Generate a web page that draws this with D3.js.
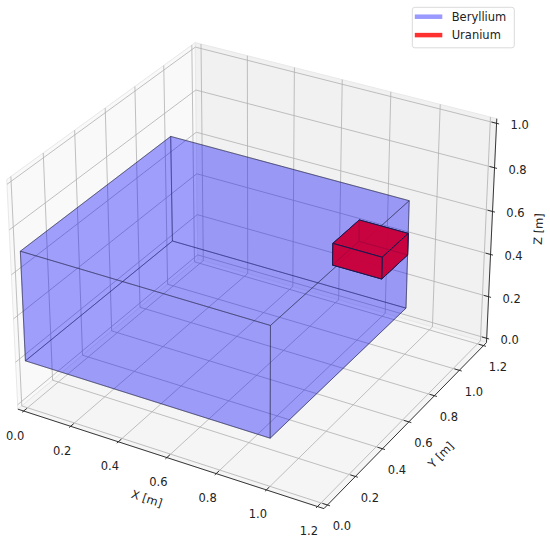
<!DOCTYPE html>
<html>
<head>
<meta charset="utf-8">
<script src="https://cdn.jsdelivr.net/npm/d3@7"></script>
<style>
  body { margin: 0; background: #fff; }
  text { font-family: "DejaVu Sans", sans-serif; font-size: 11.5px; fill: #222; }
</style>
</head>
<body>
<script>
// axis limits and ticks
const xLim = [0, 1.2];
const yLim = [0, 1.2];
const zLim = [0, 1.0];
const xTicks = [0, 0.2, 0.4, 0.6, 0.8, 1.0, 1.2];
const yTicks = [0, 0.2, 0.4, 0.6, 0.8, 1.0, 1.2];
const zTicks = [0, 0.2, 0.4, 0.6, 0.8, 1.0];

// boxes, one entry per material
const materials = ["Beryllium", "Uranium"];
const boxX0 = [0, 0.8];
const boxX1 = [1.0, 1.0];
const boxY0 = [0, 0.8];
const boxY1 = [1.0, 1.0];
const boxZ0 = [0.2, 0.45];
const boxZ1 = [0.7, 0.55];

const width = 550, height = 544;
const svg = d3.select("body").append("svg")
    .attr("width", width)
    .attr("height", height);

// view like matplotlib's default 3d axes
const elev = 30, azim = -60, dist = 10;
let aspect = [4, 4, 3];
const norm = Math.hypot(...aspect);
aspect = aspect.map(a => a * 1.8294640721620434 / norm);
const R = aspect.map(a => a / 2);
const er = elev * Math.PI / 180, ar = azim * Math.PI / 180;
const nv = [Math.cos(er) * Math.cos(ar), Math.cos(er) * Math.sin(ar), Math.sin(er)];
const dot = (a, b) => a[0] * b[0] + a[1] * b[1] + a[2] * b[2];
let uv = [-nv[1], nv[0], 0];
const ul = Math.hypot(...uv);
uv = uv.map(c => c / ul);
const vv = [nv[1] * uv[2] - nv[2] * uv[1], nv[2] * uv[0] - nv[0] * uv[2], nv[0] * uv[1] - nv[1] * uv[0]];

const wx = d3.scaleLinear().domain(xLim).range([0, aspect[0]]);
const wy = d3.scaleLinear().domain(yLim).range([0, aspect[1]]);
const wz = d3.scaleLinear().domain(zLim).range([0, aspect[2]]);
const sx = d3.scaleLinear().domain([0, 0.1]).range([256.5, 256.5 + 294.5]);
const sy = d3.scaleLinear().domain([0, 0.1]).range([264.4, 264.4 - 293.1]);

function project(p) {
    const d = [wx(p[0]) - R[0], wy(p[1]) - R[1], wz(p[2]) - R[2]];
    const w = dist - dot(nv, d);
    return [sx(dot(uv, d) / w), sy(dot(vv, d) / w), w];
}

const line = d3.line();
const path3 = pts => line(pts.map(p => project(p).slice(0, 2)));

// padded pane extents
const xd = (xLim[1] - xLim[0]) / 12, yd = (yLim[1] - yLim[0]) / 12, zd = (zLim[1] - zLim[0]) / 12;
const x0 = xLim[0] - xd / 4, x1 = xLim[1] + xd / 4;
const y0 = yLim[0] - yd / 4, y1 = yLim[1] + yd / 4;
const z0 = zLim[0] - zd / 4, z1 = zLim[1] + zd / 4;

// panes
const panes = [
    { pts: [[x0, y0, z0], [x0, y1, z0], [x0, y1, z1], [x0, y0, z1]], fill: "#f9f9f9" },
    { pts: [[x0, y1, z0], [x1, y1, z0], [x1, y1, z1], [x0, y1, z1]], fill: "#f1f1f1" },
    { pts: [[x0, y0, z0], [x1, y0, z0], [x1, y1, z0], [x0, y1, z0]], fill: "#f5f5f5" }
];
svg.selectAll(".pane")
    .data(panes)
    .enter()
    .append("path")
    .attr("class", "pane")
    .attr("d", d => path3(d.pts) + "Z")
    .attr("fill", d => d.fill)
    .attr("stroke", "#e8e8e8")
    .attr("stroke-width", 1);

// grid lines
const grid = []
    .concat(xTicks.map(t => [[t, y0, z0], [t, y1, z0], [t, y1, z1]]))
    .concat(yTicks.map(t => [[x1, t, z0], [x0, t, z0], [x0, t, z1]]))
    .concat(zTicks.map(t => [[x0, y0, t], [x0, y1, t], [x1, y1, t]]));
svg.selectAll(".grid")
    .data(grid)
    .enter()
    .append("path")
    .attr("class", "grid")
    .attr("d", path3)
    .attr("fill", "none")
    .attr("stroke", "#b0b0b0")
    .attr("stroke-width", 0.8);

// axis lines
const axes = [
    [[x0, y0, z0], [x1, y0, z0]],
    [[x1, y0, z0], [x1, y1, z0]],
    [[x1, y1, z0], [x1, y1, z1]]
];
svg.selectAll(".axisline")
    .data(axes)
    .enter()
    .append("path")
    .attr("class", "axisline")
    .attr("d", path3)
    .attr("stroke", "#222")
    .attr("stroke-width", 0.9);

// ticks
const tickSegs = []
    .concat(xTicks.map(t => [[t, y0 - 0.1 * yd, z0], [t, y0 + 0.2 * yd, z0]]))
    .concat(yTicks.map(t => [[x1 + 0.1 * xd, t, z0], [x1 - 0.2 * xd, t, z0]]))
    .concat(zTicks.map(t => [[x1 + 0.1 * xd, y1, t], [x1 - 0.2 * xd, y1, t]]));
svg.selectAll(".tick")
    .data(tickSegs)
    .enter()
    .append("path")
    .attr("class", "tick")
    .attr("d", path3)
    .attr("stroke", "#222")
    .attr("stroke-width", 0.9);

// tick labels
const fmt = d3.format(".1f");
const labels = []
    .concat(xTicks.map(t => ({ p: project([t, y0, z0]), dx: -8.5, dy: 24.5, t })))
    .concat(yTicks.map(t => ({ p: project([x1, t, z0]), dx: 14.5, dy: 21.5, t })))
    .concat(zTicks.map(t => ({ p: project([x1, y1, t]), dx: 23, dy: 2, t })));
svg.selectAll(".ticklabel")
    .data(labels)
    .enter()
    .append("text")
    .attr("class", "ticklabel")
    .attr("x", d => d.p[0] + d.dx)
    .attr("y", d => d.p[1] + d.dy)
    .attr("text-anchor", "middle")
    .attr("dominant-baseline", "central")
    .text(d => fmt(d.t));

// axis titles
const xm = (xLim[0] + xLim[1]) / 2, ym = (yLim[0] + yLim[1]) / 2, zm = (zLim[0] + zLim[1]) / 2;
function angle(a, b) {
    const pa = project(a), pb = project(b);
    return Math.atan2(pb[1] - pa[1], pb[0] - pa[0]) * 180 / Math.PI;
}
const titles = [
    { text: "X [m]", p: project([xm, y0, z0]), dx: -20, dy: 41, rot: angle([x0, y0, z0], [x1, y0, z0]) },
    { text: "Y [m]", p: project([x1, ym, z0]), dx: 32, dy: 33, rot: angle([x1, y0, z0], [x1, y1, z0]) },
    { text: "Z [m]", p: project([x1, y1, zm]), dx: 47, dy: -4, rot: angle([x1, y1, z0], [x1, y1, z1]) }
];
svg.selectAll(".title")
    .data(titles)
    .enter()
    .append("text")
    .attr("class", "title")
    .attr("text-anchor", "middle")
    .attr("dominant-baseline", "central")
    .attr("transform", d => `translate(${d.p[0] + d.dx},${d.p[1] + d.dy}) rotate(${d.rot})`)
    .text(d => d.text);

// boxes
const faceFill = ["blue", "#c8003c"];
const faceOpacity = [0.2, 0.85];
const edgeColor = ["#2a2a4a", "#1a1a50"];
const edgeOpacity = [0.55, 1];
const edgeWidth = [0.8, 1];

function boxFaces(i) {
    const c = [
        [boxX0[i], boxY0[i], boxZ0[i]], [boxX1[i], boxY0[i], boxZ0[i]],
        [boxX1[i], boxY1[i], boxZ0[i]], [boxX0[i], boxY1[i], boxZ0[i]],
        [boxX0[i], boxY0[i], boxZ1[i]], [boxX1[i], boxY0[i], boxZ1[i]],
        [boxX1[i], boxY1[i], boxZ1[i]], [boxX0[i], boxY1[i], boxZ1[i]]
    ];
    const idx = [[0, 1, 2, 3], [4, 5, 6, 7], [0, 1, 5, 4], [1, 2, 6, 5], [2, 3, 7, 6], [3, 0, 4, 7]];
    return idx.map(f => {
        const pts = f.map(k => project(c[k]));
        return { pts, depth: d3.mean(pts, p => p[2]), i };
    }).sort((a, b) => b.depth - a.depth);
}

materials.forEach((m, i) => {
    svg.append("g")
        .attr("class", "box")
        .selectAll("path")
        .data(boxFaces(i))
        .enter()
        .append("path")
        .attr("d", d => line(d.pts.map(p => p.slice(0, 2))) + "Z")
        .attr("fill", faceFill[i])
        .attr("fill-opacity", faceOpacity[i])
        .attr("stroke", edgeColor[i])
        .attr("stroke-opacity", edgeOpacity[i])
        .attr("stroke-width", edgeWidth[i])
        .attr("stroke-linejoin", "round");
});

// legend
const legendColor = ["#9999ff", "#ff3030"];
const legend = svg.append("g").attr("transform", "translate(412.3,7.3)");
legend.append("rect")
    .attr("width", 102)
    .attr("height", 40.5)
    .attr("rx", 2.5)
    .attr("fill", "#fff")
    .attr("fill-opacity", 0.8)
    .attr("stroke", "#d6d6d6")
    .attr("stroke-width", 0.9);
const rows = legend.selectAll(".row")
    .data(materials)
    .enter()
    .append("g")
    .attr("transform", (d, i) => `translate(0,${9.4 + i * 18.4})`);
rows.append("line")
    .attr("x1", 2.5)
    .attr("x2", 30)
    .attr("stroke", (d, i) => legendColor[i])
    .attr("stroke-width", 4.5);
rows.append("text")
    .attr("x", 39.4)
    .attr("dominant-baseline", "central")
    .text(d => d);
</script>
</body>
</html>
